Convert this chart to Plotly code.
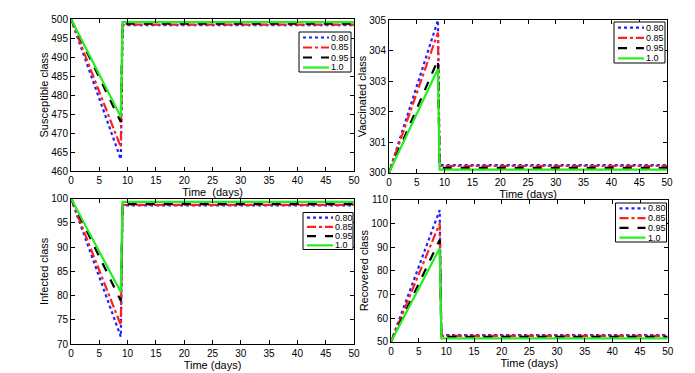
import plotly.graph_objects as go

# time points: start, end of first phase, just after jump, end
t = [0, 8.8, 9.1, 50]
labels = ["0.80", "0.85", "0.95", "1.0"]

# each series: value at t=0, peak/trough at 8.8, plateau after the jump
susceptible = {
    "0.80": [500, 463.1, 498.4, 498.4],
    "0.85": [500, 466.3, 498.5, 498.5],
    "0.95": [500, 472.9, 498.8, 498.8],
    "1.0": [500, 474.3, 499.2, 499.2],
}
vaccinated = {
    "0.80": [300, 305.0, 300.25, 300.25],
    "0.85": [300, 304.6, 300.22, 300.22],
    "0.95": [300, 303.7, 300.16, 300.16],
    "1.0": [300, 303.4, 300.1, 300.1],
}
infected = {
    "0.80": [100, 71.5, 98.6, 98.6],
    "0.85": [100, 73.9, 98.7, 98.7],
    "0.95": [100, 78.9, 98.9, 98.9],
    "1.0": [100, 80.7, 99.3, 99.3],
}
recovered = {
    "0.80": [50, 105.6, 52.8, 52.8],
    "0.85": [50, 100.0, 52.5, 52.5],
    "0.95": [50, 93.0, 52.0, 52.0],
    "1.0": [50, 89.5, 51.4, 51.4],
}

styles = {
    "0.80": dict(color="#1f1fff", dash="dot"),
    "0.85": dict(color="#ff1f1f", dash="dashdot"),
    "0.95": dict(color="black", dash="dash"),
    "1.0": dict(color="#22ee22", dash="solid"),
}

# the page body keeps its default 8px margin, so the figure is drawn 8px in
OFF = 8
W, H = 695 - OFF, 373 - OFF


def px(x):
    return (x - OFF) / W


def py(y):
    return 1 - (y - OFF) / H


panels = [
    # data, y title, x title, xaxis, yaxis, x px span, y px span, y range, dtick, legend box px
    (susceptible, "Susceptible class", "Time  (days)", "x", "y",
     (71, 354), (19, 171), [460, 500], 5, (299, 32, 351, 72)),
    (vaccinated, "Vaccinated class", "Time (days)", "x2", "y2",
     (389, 667), (20.3, 172.7), [300, 305], 1, (614, 22, 665, 63)),
    (infected, "Infected class", "Time (days)", "x3", "y3",
     (71, 354), (198.5, 344), [70, 100], 5, (303, 212.5, 353, 249.5)),
    (recovered, "Recovered class", "Time (days)", "x4", "y4",
     (391, 667.7), (199.7, 341.7), [50, 110], 10, (615.5, 203, 666.5, 242)),
]

fig = go.Figure()
font = "Liberation Sans, Arial, sans-serif"
shapes = []
annotations = []

for data, ytitle, xtitle, xa, ya, xs, ys, yrng, dt, box in panels:
    for name in labels:
        st = styles[name]
        fig.add_trace(go.Scatter(
            x=t, y=data[name], mode="lines", name=name, showlegend=False,
            line=dict(color=st["color"], dash=st["dash"], width=2.2),
            xaxis=xa, yaxis=ya,
        ))
    xkey = "xaxis" + xa[1:]
    ykey = "yaxis" + ya[1:]
    axis_common = dict(
        showline=True, linecolor="black", linewidth=1, mirror="ticks",
        ticks="inside", ticklen=4, tickcolor="black", showgrid=False,
        zeroline=False, automargin=False,
        tickfont=dict(size=10, color="black", family=font),
    )
    fig.update_layout({
        xkey: dict(domain=[px(xs[0]), px(xs[1])], range=[0, 50], dtick=5, anchor=ya,
                   title=dict(text=xtitle, standoff=1,
                              font=dict(size=11, color="black", family=font)),
                   **axis_common),
        ykey: dict(domain=[py(ys[1]), py(ys[0])], range=yrng, dtick=dt, anchor=xa,
                   title=dict(text=ytitle, standoff=0,
                              font=dict(size=11, color="black", family=font)),
                   **axis_common),
    })

    # legend box drawn by hand so rows stay compact like the original
    bx0, by0, bx1, by1 = box
    shapes.append(dict(type="rect", xref="paper", yref="paper",
                       x0=px(bx0), x1=px(bx1), y0=py(by1), y1=py(by0),
                       line=dict(color="black", width=1), fillcolor="white"))
    step = (by1 - by0) / 4
    for i, name in enumerate(labels):
        st = styles[name]
        yc = by0 + step * (i + 0.55)
        shapes.append(dict(type="line", xref="paper", yref="paper",
                           x0=px(bx0 + 4), x1=px(bx0 + 30), y0=py(yc), y1=py(yc),
                           line=dict(color=st["color"], dash=st["dash"], width=2.2)))
        annotations.append(dict(text=name, xref="paper", yref="paper",
                                x=px(bx0 + 31), y=py(yc), xanchor="left",
                                yanchor="middle", showarrow=False, borderpad=0,
                                font=dict(size=9, color="black", family=font)))

fig.update_layout(
    width=W, height=H,
    margin=dict(l=0, r=0, t=0, b=0),
    paper_bgcolor="white", plot_bgcolor="white",
    shapes=shapes, annotations=annotations,
)

fig.write_html("out.html")
